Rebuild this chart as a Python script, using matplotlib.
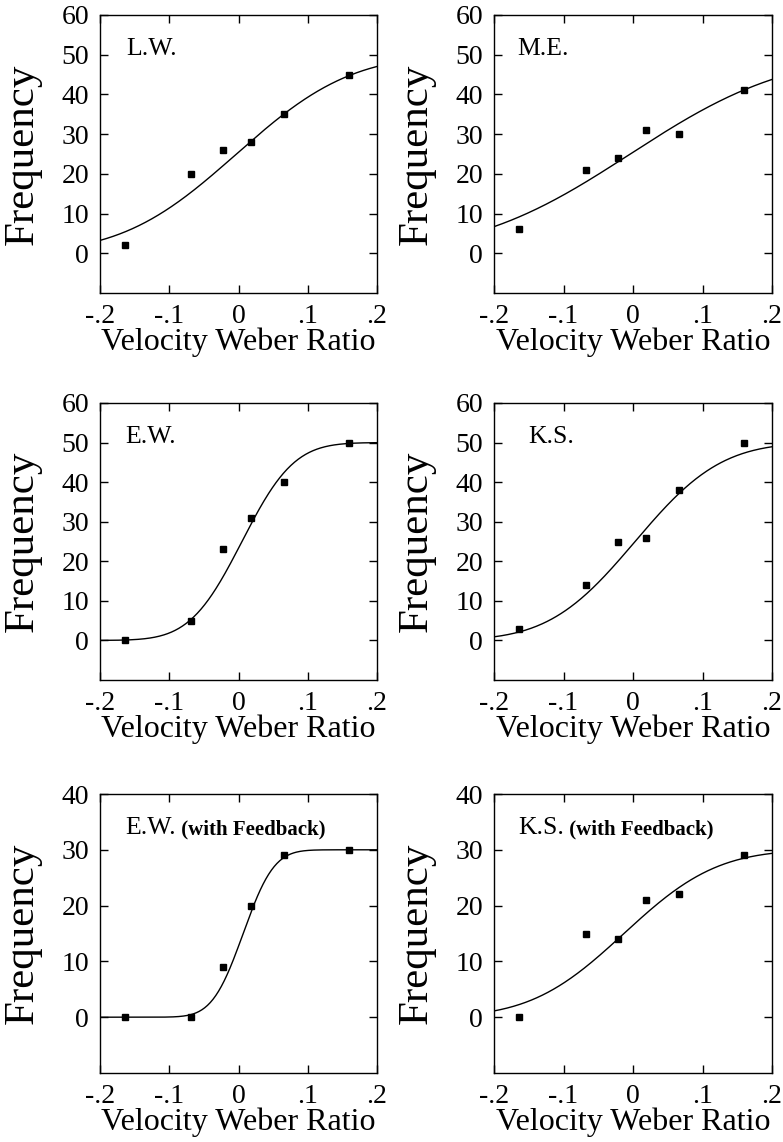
import math
import matplotlib
matplotlib.use('Agg')
import matplotlib.pyplot as plt
import numpy as np

plt.rcParams['font.family'] = ['Liberation Serif', 'DejaVu Serif']

# stimulus levels (velocity Weber ratio), same for every observer
weber = [-0.164, -0.068, -0.022, 0.018, 0.066, 0.160]

lw = [2, 20, 26, 28, 35, 45]
me = [6, 21, 24, 31, 30, 41]
ew = [0, 5, 23, 31, 40, 50]
ks = [3, 14, 25, 26, 38, 50]
ew_fb = [0, 0, 9, 20, 29, 30]
ks_fb = [0, 15, 14, 21, 22, 29]

# fitted cumulative normal: (trials, mean, sd)
fit_lw = (50, -0.003, 0.130)
fit_me = (50, -0.004, 0.177)
fit_ew = (50, 0.005, 0.059)
fit_ks = (50, 0.003, 0.097)
fit_ew_fb = (30, 0.0067, 0.035)
fit_ks_fb = (30, -0.013, 0.105)

names = ['L.W.', 'M.E.', 'E.W.', 'K.S.', 'E.W.', 'K.S.']
extra = ['', '', '', '', '(with Feedback)', '(with Feedback)']
freqs = [lw, me, ew, ks, ew_fb, ks_fb]
fits = [fit_lw, fit_me, fit_ew, fit_ks, fit_ew_fb, fit_ks_fb]

xticks = [-0.2, -0.1, 0, 0.1, 0.2]
xticklabels = ['-.2', '-.1', '0', '.1', '.2']

W, H = 783.0, 1142.0
lefts = [100, 494]
widths = [277, 278]
rows = [(15, 293), (403, 680), (794, 1073)]
name_x = [0.094, 0.083, 0.09, 0.122, 0.09, 0.086]

fig = plt.figure(figsize=(W / 100, H / 100), dpi=100)

for i in range(6):
    r, c = i // 2, i % 2
    top, bot = rows[r]
    ax = fig.add_axes([lefts[c] / W, 1 - bot / H, widths[c] / W, (bot - top) / H])

    n, mu, sd = fits[i]
    xs = np.linspace(-0.2, 0.2, 300)
    ys = [n * 0.5 * (1 + math.erf((x - mu) / (sd * math.sqrt(2)))) for x in xs]
    ax.plot(xs, ys, color='black', lw=1.0)
    ax.plot(weber, freqs[i], 's', color='black', ms=5)

    ax.set_xlim(-0.2, 0.2)
    ax.set_xticks(xticks, xticklabels)
    if r < 2:
        ax.set_ylim(-10, 60)
        ax.set_yticks([0, 10, 20, 30, 40, 50, 60])
    else:
        ax.set_ylim(-10, 40)
        ax.set_yticks([0, 10, 20, 30, 40])

    ax.tick_params(direction='in', top=True, right=True, length=6, width=1,
                   labelsize=20, pad=8)
    for s in ax.spines.values():
        s.set_linewidth(1.0)

    ax.set_xlabel('Velocity Weber Ratio', fontsize=23)
    ax.xaxis.set_label_coords(0.5, -0.125)
    ax.set_ylabel('Frequency', fontsize=31)
    ax.yaxis.set_label_coords(-0.21, 0.5)

    t = ax.text(name_x[i], 0.856, names[i], transform=ax.transAxes, fontsize=18.5)
    if extra[i]:
        ax.annotate(' ' + extra[i], xycoords=t, xy=(1, 0), va='bottom',
                    fontsize=15, fontweight='bold')

plt.savefig('out.png', dpi=100)
